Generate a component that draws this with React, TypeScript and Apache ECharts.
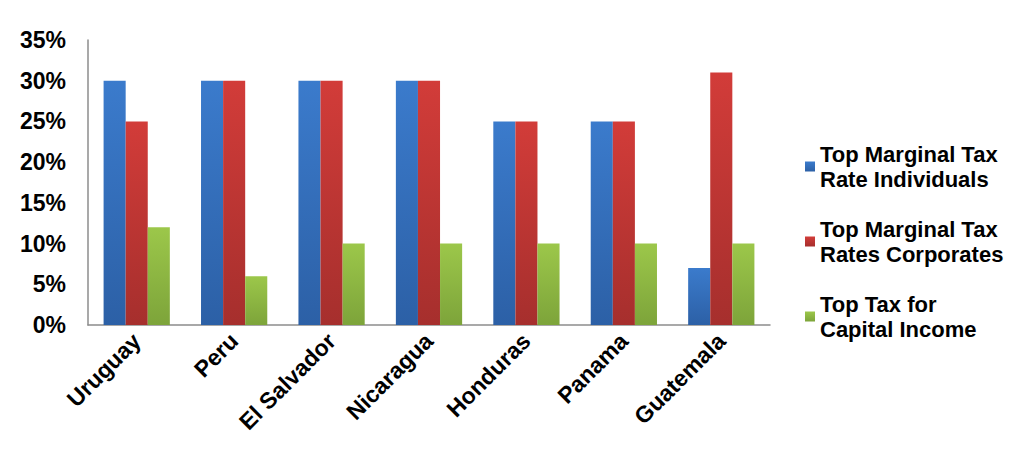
import React, { useEffect, useRef } from "react";
import * as echarts from "echarts";

const categories = ["Uruguay", "Peru", "El Salvador", "Nicaragua", "Honduras", "Panama", "Guatemala"];
const individuals = [30, 30, 30, 30, 25, 25, 7];
const corporates = [25, 30, 30, 30, 25, 25, 31];
const capitalIncome = [12, 6, 10, 10, 10, 10, 10];
const seriesNames = [
  "Top Marginal Tax\nRate Individuals",
  "Top Marginal Tax\nRates Corporates",
  "Top Tax for\nCapital Income",
];

const grad = (top: string, bottom: string) =>
  new echarts.graphic.LinearGradient(0, 0, 0, 1, [
    { offset: 0, color: top },
    { offset: 1, color: bottom },
  ]);

export default function App() {
  const ref = useRef<HTMLDivElement>(null);
  useEffect(() => {
    if (!ref.current) return;
    const chart = echarts.init(ref.current, undefined, { renderer: "svg" });
    const font = "Liberation Sans, Arial, sans-serif";
    chart.setOption({
      animation: false,
      backgroundColor: "#ffffff",
      grid: { left: 80, right: 245, top: 32, bottom: 139, containLabel: false },
      legend: {
        orient: "vertical",
        left: 792,
        top: 116,
        itemWidth: 10,
        itemHeight: 10,
        itemGap: 0,
        icon: "rect",
        textStyle: {
          fontFamily: font,
          fontSize: 22,
          fontWeight: "bold",
          color: "#000",
          lineHeight: 25,
          padding: [25, 0, 0, 0],
        },
        data: seriesNames,
      },
      xAxis: {
        type: "category",
        data: categories,
        axisLine: { show: true, lineStyle: { color: "#8c8c8c", width: 1.5 } },
        axisTick: { show: false },
        axisLabel: {
          rotate: 45,
          interval: 0,
          margin: 12,
          fontFamily: font,
          fontSize: 23,
          fontWeight: "bold",
          color: "#000",
        },
      },
      yAxis: {
        type: "value",
        min: 0,
        max: 35,
        interval: 5,
        splitLine: { show: false },
        axisLine: { show: true, lineStyle: { color: "#8c8c8c", width: 1.5 } },
        axisTick: { show: false },
        axisLabel: {
          formatter: "{value}%",
          margin: 22,
          fontFamily: font,
          fontSize: 23,
          fontWeight: "bold",
          color: "#000",
        },
      },
      series: [
        {
          name: seriesNames[0],
          type: "bar",
          data: individuals,
          barGap: "0%",
          barCategoryGap: "32%",
          itemStyle: { color: grad("#3b7bcc", "#2c60a6") },
        },
        {
          name: seriesNames[1],
          type: "bar",
          data: corporates,
          barGap: "0%",
          barCategoryGap: "32%",
          itemStyle: { color: grad("#d23c39", "#a62f2d") },
        },
        {
          name: seriesNames[2],
          type: "bar",
          data: capitalIncome,
          barGap: "0%",
          barCategoryGap: "32%",
          itemStyle: { color: grad("#9cc74a", "#7da43a") },
        },
      ],
    });
    return () => chart.dispose();
  }, []);
  return <div ref={ref} style={{ width: 1007, height: 456 }} />;
}
